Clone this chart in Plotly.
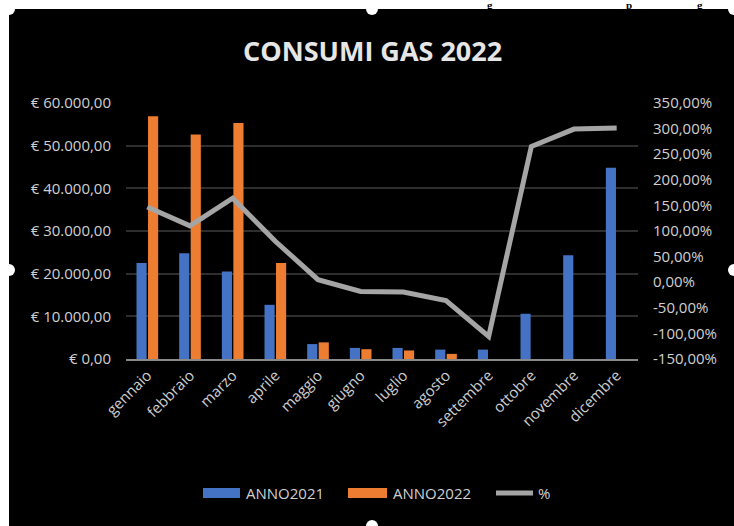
import plotly.graph_objects as go

months = ["gennaio", "febbraio", "marzo", "aprile", "maggio", "giugno",
          "luglio", "agosto", "settembre", "ottobre", "novembre", "dicembre"]
anno2021 = [22500, 24800, 20500, 12700, 3500, 2600, 2600, 2200, 2200, 10600, 24300, 44800]
anno2022 = [56900, 52600, 55300, 22500, 3900, 2300, 2000, 1200, None, None, None, None]
perc = [147, 110, 164, 80, 5, -18, -19, -36, -106, 265, 299, 301]

left_vals = [0, 10000, 20000, 30000, 40000, 50000, 60000]
left_text = ["€ 0,00", "€ 10.000,00", "€ 20.000,00", "€ 30.000,00",
             "€ 40.000,00", "€ 50.000,00", "€ 60.000,00"]
right_vals = [-150, -100, -50, 0, 50, 100, 150, 200, 250, 300, 350]
right_text = ["-150,00%", "-100,00%", "-50,00%", "0,00%", "50,00%", "100,00%",
              "150,00%", "200,00%", "250,00%", "300,00%", "350,00%"]

W, H = 734, 526
L, R, T, B = 126, 638, 103, 359

def px(x):
    return (x - L) / (R - L)

def py(y):
    return 1 - (y - T) / (B - T)

FONT = "Open Sans"
TXT = "#d0d0d0"
BLUE = "#4472C4"
ORANGE = "#ED7D31"
GRAY = "#A5A5A5"

fig = go.Figure()
fig.add_trace(go.Bar(x=months, y=anno2021, name="ANNO2021", marker=dict(color=BLUE, line_width=0)))
fig.add_trace(go.Bar(x=months, y=anno2022, name="ANNO2022", marker=dict(color=ORANGE, line_width=0)))
fig.add_trace(go.Scatter(x=months, y=perc, name="%", yaxis="y2", mode="lines",
                         line=dict(color=GRAY, width=5)))

shapes = [
    # white page strips above and to the left of the black chart area
    dict(type="rect", xref="paper", yref="paper", x0=px(-20), x1=px(760), y0=py(-20), y1=py(9),
         fillcolor="white", line_width=0, layer="below"),
    dict(type="rect", xref="paper", yref="paper", x0=px(-20), x1=px(9), y0=py(-20), y1=py(540),
         fillcolor="white", line_width=0, layer="below"),
]
# Excel selection handles
for (hx, hy) in [(9, 9), (372, 9), (734, 9), (9, 270), (734, 270), (372, 526)]:
    shapes.append(dict(type="circle", xref="paper", yref="paper",
                       x0=px(hx - 6), x1=px(hx + 6), y0=py(hy - 6), y1=py(hy + 6),
                       fillcolor="white", line_width=0, layer="above"))

# custom legend
shapes += [
    dict(type="rect", xref="paper", yref="paper", x0=px(203), x1=px(240), y0=py(488), y1=py(498),
         fillcolor=BLUE, line_width=0),
    dict(type="rect", xref="paper", yref="paper", x0=px(348), x1=px(387), y0=py(488), y1=py(498),
         fillcolor=ORANGE, line_width=0),
    dict(type="line", xref="paper", yref="paper", x0=px(496), x1=px(533), y0=py(493), y1=py(493),
         line=dict(color=GRAY, width=5)),
]

annotations = [
    dict(text="<b>CONSUMI GAS 2022</b>", xref="paper", yref="paper", x=px(372), y=py(50),
         xanchor="center", yanchor="middle", showarrow=False,
         font=dict(family=FONT, size=27, color="#e6e6e6")),
    dict(text="ANNO2021", xref="paper", yref="paper", x=px(244), y=py(493),
         xanchor="left", yanchor="middle", showarrow=False, font=dict(family=FONT, size=15, color=TXT)),
    dict(text="ANNO2022", xref="paper", yref="paper", x=px(391), y=py(493),
         xanchor="left", yanchor="middle", showarrow=False, font=dict(family=FONT, size=15, color=TXT)),
    dict(text="%", xref="paper", yref="paper", x=px(536), y=py(493),
         xanchor="left", yanchor="middle", showarrow=False, font=dict(family=FONT, size=15, color=TXT)),
]
for (gx, ch) in [(490, "g"), (629, "p"), (700, "g")]:
    annotations.append(dict(text="<b>" + ch + "</b>", xref="paper", yref="paper", x=px(gx), y=py(-3),
                            xanchor="center", yanchor="top", showarrow=False,
                            font=dict(family="Liberation Serif", size=11, color="black")))

fig.update_layout(
    width=W, height=H,
    margin=dict(l=L, r=W - R, t=T, b=H - B),
    paper_bgcolor="black", plot_bgcolor="black",
    barmode="group", bargap=0.46, bargroupgap=0.12,
    showlegend=False,
    font=dict(family=FONT, size=15, color=TXT),
    shapes=shapes, annotations=annotations,
    xaxis=dict(type="category", tickangle=-45, showgrid=False, showline=True,
               linecolor="#8a8a8a", linewidth=1.5, ticks="", tickfont=dict(size=15, color=TXT)),
    yaxis=dict(range=[0, 60000], tickvals=left_vals, ticktext=left_text, showgrid=True,
               gridcolor="#2e2e2e", gridwidth=1.5, zeroline=False, showline=False,
               ticklabelstandoff=14, tickfont=dict(size=15, color=TXT)),
    yaxis2=dict(range=[-150, 350], tickvals=right_vals, ticktext=right_text, overlaying="y",
                side="right", showgrid=False, zeroline=False, showline=False,
                ticklabelstandoff=14, tickfont=dict(size=15, color=TXT)),
)

fig.write_html("out.html", config={"displayModeBar": False},
               post_script=("document.body.style.margin='0';"
                            "document.body.style.background='black';"
                            "document.body.style.overflow='hidden';"
                            "document.documentElement.style.overflow='hidden';"))
